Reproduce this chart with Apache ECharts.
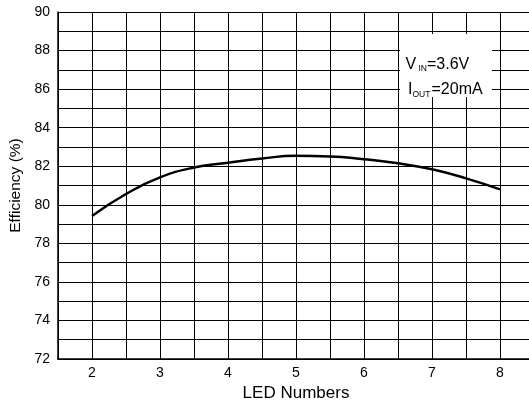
<!DOCTYPE html>
<html>
<head>
<meta charset="utf-8">
<script src="https://cdn.jsdelivr.net/npm/echarts@6/dist/echarts.min.js"></script>
<style>
html,body{margin:0;padding:0;background:#fff;}
#chart{width:529px;height:401px;}
</style>
</head>
<body>
<div id="chart"></div>
<script>
const ledNumbers = [2, 2.5, 3, 3.5, 4, 4.5, 5, 5.5, 6, 6.5, 7, 7.5, 8];
const efficiency = [79.42, 80.56, 81.42, 81.93, 82.18, 82.40, 82.54, 82.51, 82.36, 82.15, 81.84, 81.37, 80.80];
const xTickLabels = ['2', '3', '4', '5', '6', '7', '8'];
const yTickLabels = ['72', '74', '76', '78', '80', '82', '84', '86', '88', '90'];

const FONT = "'Liberation Sans', Arial, Helvetica, sans-serif";
const chart = echarts.init(document.getElementById('chart'), null, {renderer: 'canvas'});

const txt = (x, y, s, size) => ({
  type: 'text', left: x, top: y,
  style: {text: s, fill: '#000', font: size + 'px ' + FONT, textVerticalAlign: 'middle', verticalAlign: 'middle'}
});

chart.setOption({
  animation: false,
  backgroundColor: '#fff',
  grid: {left: 58, top: 12, bottom: 42, right: -5, containLabel: false, outerBoundsMode: 'none'},
  xAxis: {
    type: 'value', min: 1.5, max: 8.5, interval: 0.5,
    name: 'LED Numbers', nameLocation: 'middle', nameGap: 18,
    nameTextStyle: {fontFamily: FONT, fontSize: 17, color: '#000'},
    axisLine: {show: true, onZero: false, lineStyle: {color: '#000', width: 1.5}},
    axisTick: {show: false},
    axisLabel: {
      fontFamily: FONT, fontSize: 14, color: '#000', margin: 7,
      formatter: v => (xTickLabels.indexOf(String(v)) >= 0 ? String(v) : '')
    },
    splitLine: {show: true, lineStyle: {color: '#000', width: 1}}
  },
  yAxis: {
    type: 'value', min: 72, max: 90, interval: 1,
    name: 'Efficiency (%)', nameLocation: 'middle', nameGap: 33,
    nameTextStyle: {fontFamily: FONT, fontSize: 15.5, color: '#000'},
    axisLine: {show: true, lineStyle: {color: '#000', width: 1.5}},
    axisTick: {show: false},
    axisLabel: {
      fontFamily: FONT, fontSize: 14, color: '#000', margin: 8,
      formatter: v => (yTickLabels.indexOf(String(v)) >= 0 ? String(v) : '')
    },
    splitLine: {show: true, lineStyle: {color: '#000', width: 1}}
  },
  series: [{
    type: 'line',
    data: ledNumbers.map((x, i) => [x, efficiency[i]]),
    smooth: 0.5,
    showSymbol: false,
    lineStyle: {color: '#000', width: 2.5},
    z: 5
  }],
  graphic: [
    {type: 'rect', shape: {x: 400, y: 34, width: 92, height: 63}, style: {fill: '#fff'}, z: 100},
    Object.assign(txt(405.5, 56.5, 'V', 16), {z: 101}),
    Object.assign(txt(418.5, 64.2, 'IN', 8.5), {z: 101}),
    Object.assign(txt(427, 56.5, '=3.6V', 16), {z: 101}),
    Object.assign(txt(408, 81.5, 'I', 16), {z: 101}),
    Object.assign(txt(412.5, 90, 'OUT', 8.5), {z: 101}),
    Object.assign(txt(431.5, 81.5, '=20mA', 16), {z: 101})
  ]
});
</script>
</body>
</html>
